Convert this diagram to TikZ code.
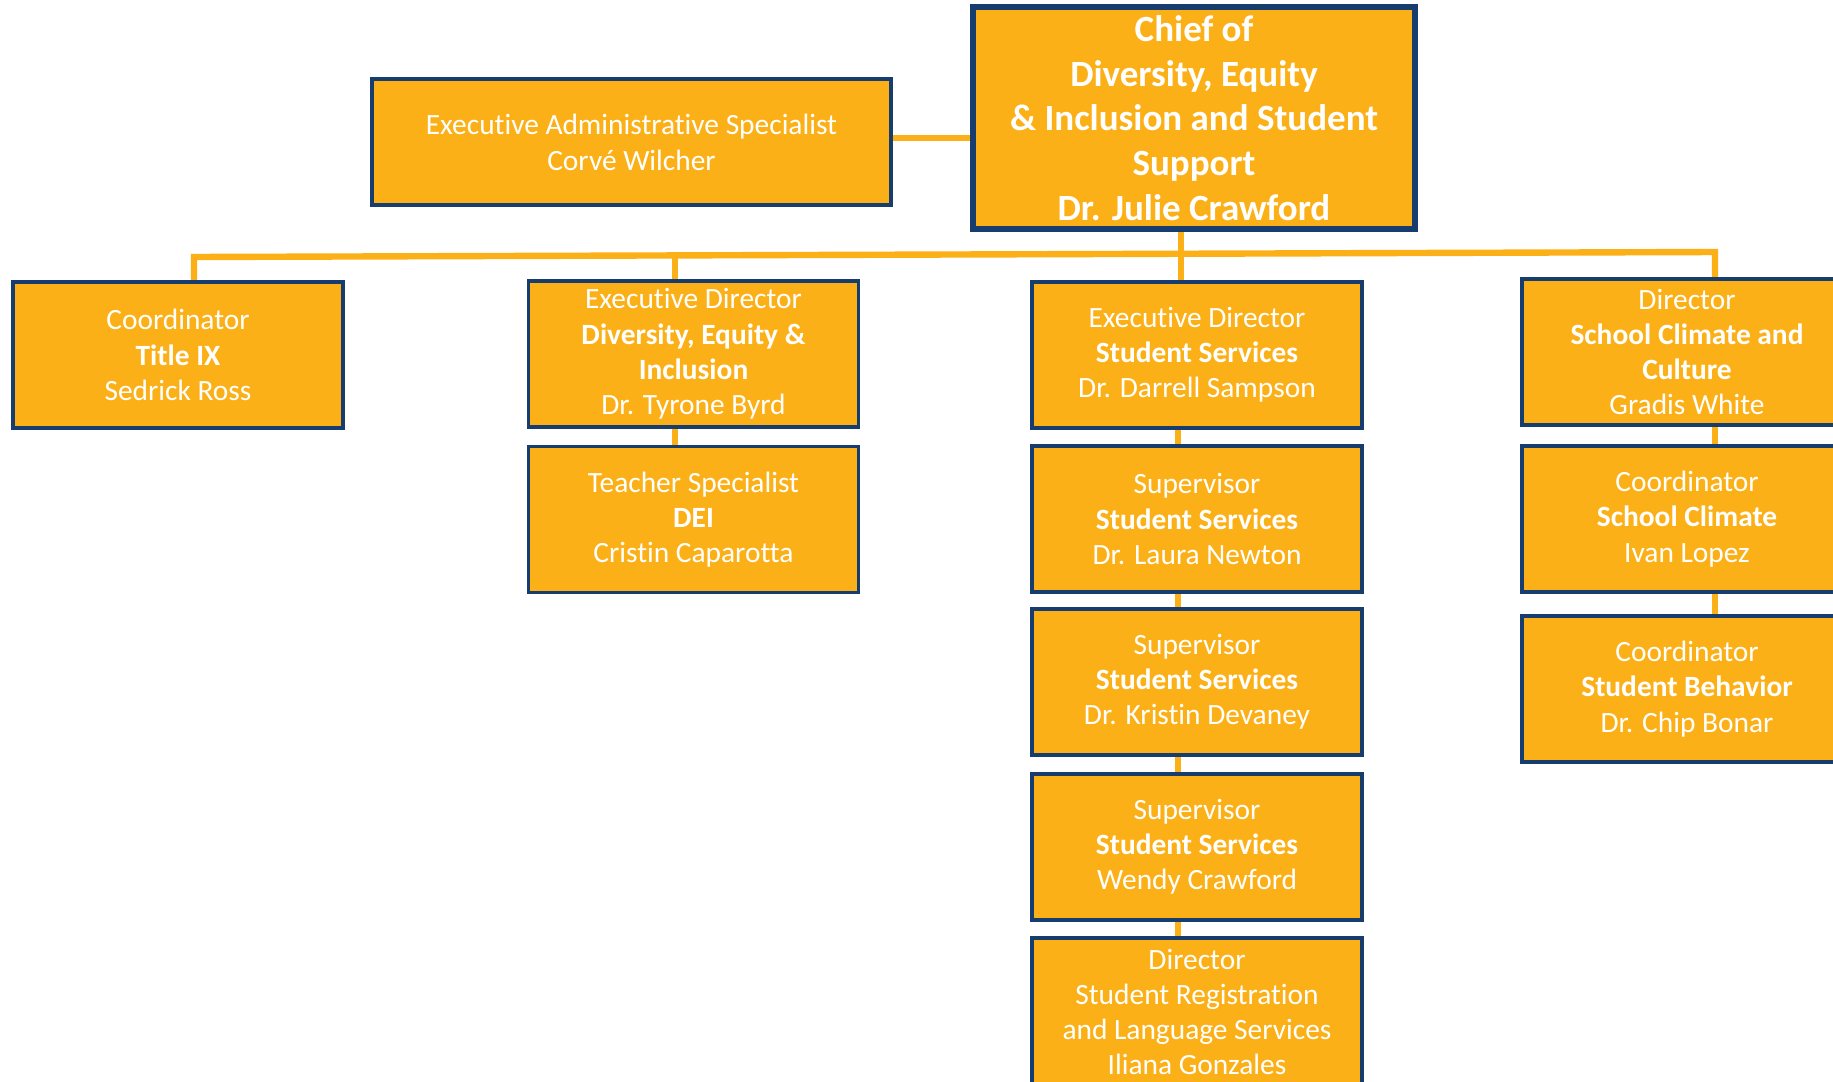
\documentclass[tikz,border=0pt]{standalone}
\usepackage{fontspec}
\setmainfont{Carlito}[Ligatures=NoCommon]
\usetikzlibrary{backgrounds}
\definecolor{gold}{RGB}{252,176,23}
\definecolor{navy}{RGB}{22,61,110}
\begin{document}
\begin{tikzpicture}[
            x = 0.5pt, y = -0.5pt,
            box/.style = {draw = navy, line width = 1.6pt, fill = gold, text = white, align = center,
                          inner sep = 0pt, minimum width = 165pt, minimum height = 73pt,
                          font = \fontsize{14.7}{17.6}\selectfont},
            link/.style = {draw = gold, line width = 3.2pt},
        ]
        \useasboundingbox (0,0) rectangle (1833,1082);

        \node (chief) [box, line width = 2.75pt, minimum width = 221pt, minimum height = 111pt,
                       font = \fontsize{18.5}{22.4}\selectfont\bfseries] at (1194,118)
              {Chief of\\Diversity, Equity\\\& Inclusion and Student\\Support\\Dr. Julie Crawford};
        \node (admin) [box, minimum width = 259.5pt, minimum height = 63pt,
                       font = \fontsize{14.7}{18}\selectfont] at (631.5,142)
              {Executive Administrative Specialist\\Corvé Wilcher};

        \node (titleix) [box] at (178,355) {Coordinator\\\textbf{Title IX}\\Sedrick Ross};
        \node (dei) [box] at (693.5,354) {Executive Director\\\textbf{Diversity, Equity \&}\\\textbf{Inclusion}\\Dr. Tyrone Byrd};
        \node (deispec) [box] at (693.5,519.5) {Teacher Specialist\\\textbf{DEI}\\Cristin Caparotta};

        \node (stusvc) [box] at (1197,355) {Executive Director\\\textbf{Student Services}\\Dr. Darrell Sampson};
        \node (supnewton) [box] at (1197,519) {Supervisor\\\textbf{Student Services}\\Dr. Laura Newton};
        \node (supdevaney) [box] at (1197,682) {Supervisor\\\textbf{Student Services}\\Dr. Kristin Devaney};
        \node (supwendy) [box] at (1197,847) {Supervisor\\\textbf{Student Services}\\Wendy Crawford};
        \node (registr) [box, minimum height = 74pt] at (1197,1012)
              {Director\\Student Registration\\and Language Services\\Iliana Gonzales};

        \node (climate) [box] at (1687,352) {Director\\\textbf{School Climate and}\\\textbf{Culture}\\Gradis White};
        \node (climcoord) [box] at (1687,519) {Coordinator\\\textbf{School Climate}\\Ivan Lopez};
        \node (behavior) [box] at (1687,689) {Coordinator\\\textbf{Student Behavior}\\Dr. Chip Bonar};

        % junctions of the connectors
        \coordinate (jadmin) at (0,138);
        \coordinate (busl) at (194,257);
        \coordinate (busr) at (1715,252);
        \coordinate (jdei) at (675,255);
        \coordinate (jchief) at (1181,0);
        \coordinate (jsvc) at (1178,0);

        \begin{pgfonlayer}{background}
            \fill[white] (0,0) rectangle (1833,1082);
            \path[link] (admin.east |- jadmin) -- (chief.west |- jadmin);
            \path[link] (titleix.north -| busl) -- (busl) -- (busr) -- (climate.north -| busr);
            \path[link] (jdei) -- (dei.north -| jdei);
            \path[link] (chief.south -| jchief) -- (stusvc.north -| jchief);
            \path[link] (dei.south -| jdei) -- (deispec.north -| jdei);
            \path[link] (stusvc.south -| jsvc) -- (supnewton.north -| jsvc);
            \path[link] (supnewton.south -| jsvc) -- (supdevaney.north -| jsvc);
            \path[link] (supdevaney.south -| jsvc) -- (supwendy.north -| jsvc);
            \path[link] (supwendy.south -| jsvc) -- (registr.north -| jsvc);
            \path[link] (climate.south -| busr) -- (climcoord.north -| busr);
            \path[link] (climcoord.south -| busr) -- (behavior.north -| busr);
        \end{pgfonlayer}
    \end{tikzpicture}
\end{document}
